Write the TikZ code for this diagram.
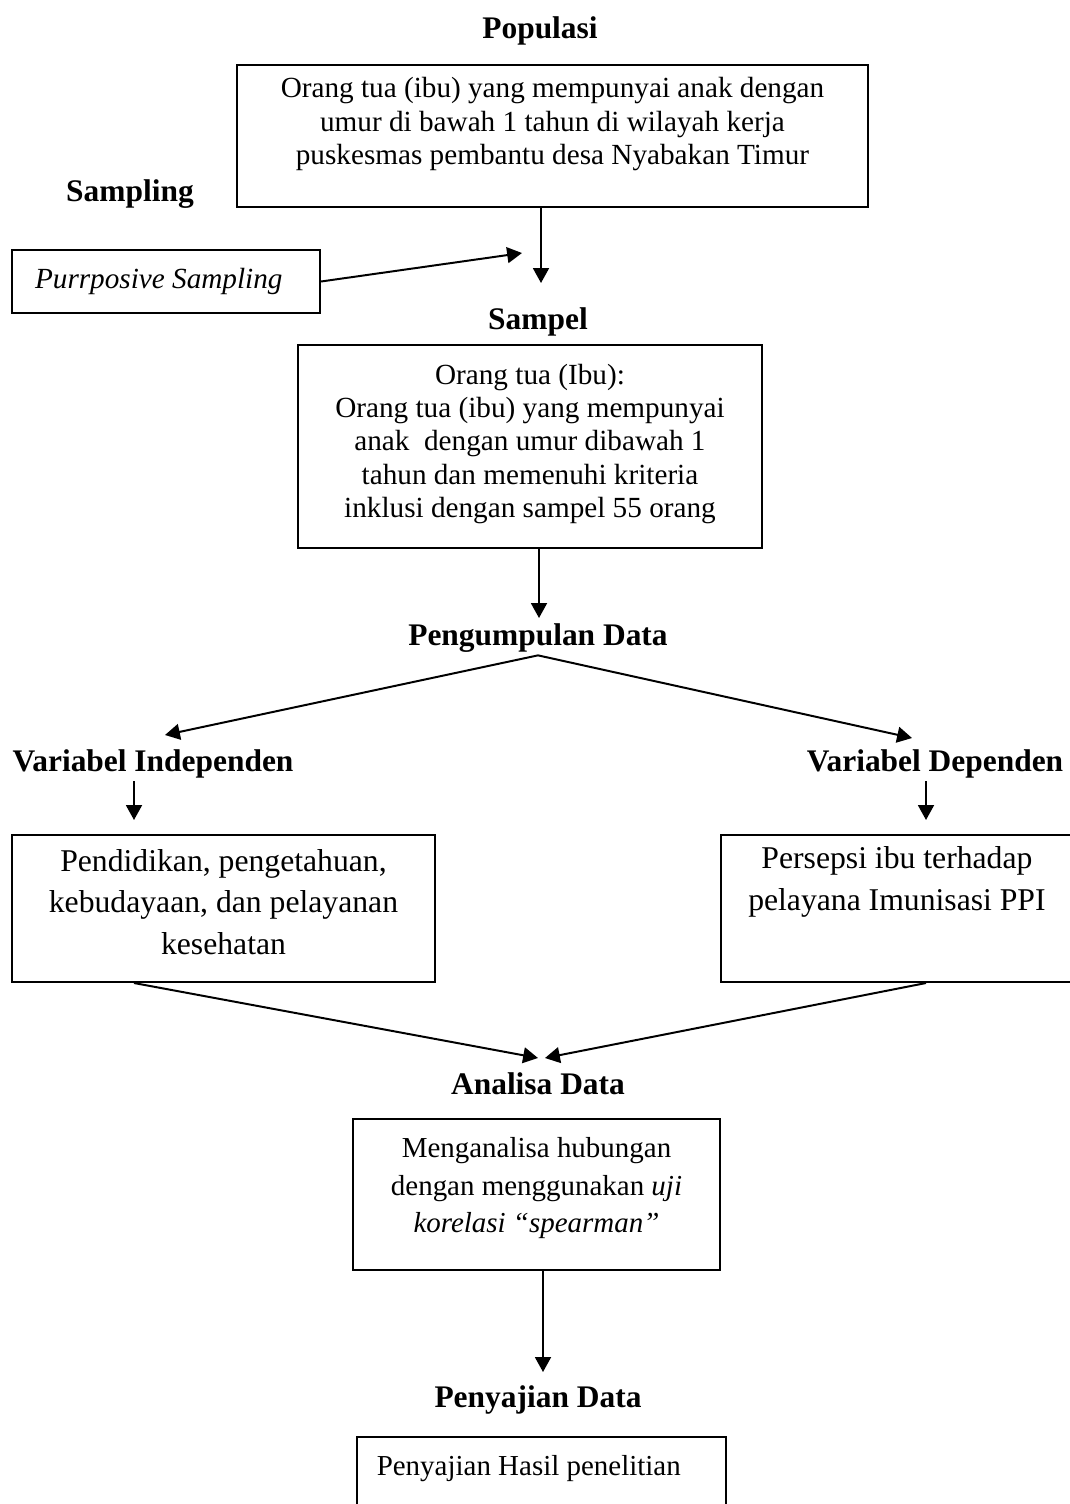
\documentclass[tikz,border=0pt]{standalone}
\usepackage{fontspec}
\setmainfont{Liberation Serif}
\usetikzlibrary{positioning,arrows.meta}

\begin{document}
\begin{tikzpicture}[
x=0.404pt,
y=-0.404pt,
kotak/.style={
  draw,
  line width=0.8pt,
  inner sep=0pt
  },
judul/.style={
  font=\bfseries\fontsize{12.7}{15}\selectfont,
  inner sep=1pt
  },
panah/.style={
  ->,
  line width=0.8pt
  },
>={Triangle[length=6pt,width=6.4pt]}
]
\useasboundingbox (0,0) rectangle (1070,1504);

% judul dan kotak
\node[judul] (pop) at (540,31) {Populasi};
\node[kotak] (popbox) at (552.5,136) {\parbox[c][57.5pt][t]{255.3pt}{\centering\fontsize{11.8}{13.6}\selectfont\vspace*{5pt}Orang tua (ibu) yang mempunyai anak dengan\\ umur di bawah 1 tahun di wilayah kerja\\ puskesmas pembantu desa Nyabakan Timur}};
\node[judul] (samp) at (130,194) {Sampling};
\node[kotak] (purp) at (166,281.5) {\parbox[c][25.5pt][c]{124.4pt}{\fontsize{11.8}{14}\selectfont\hspace*{9.3pt}\textit{Purrposive Sampling}}};
\node[judul] (sampel) at (538,322) {Sampel};
\node[kotak] (smpbox) at (530,446.5) {\parbox[c][82pt][t]{187.5pt}{\centering\fontsize{11.8}{13.5}\selectfont\vspace*{7.6pt}Orang tua (Ibu):\\ Orang tua (ibu) yang mempunyai\\ anak\ \ dengan umur dibawah 1\\ tahun dan memenuhi kriteria\\ inklusi dengan sampel 55 orang}};
\node[judul] (kumpul) at (538,638) {Pengumpulan Data};
\node[judul] (vi) at (153,764) {Variabel Independen};
\node[judul] (vd) at (935,764) {Variabel Dependen};
\node[kotak] (ind) at (223.5,908.5) {\parbox[c][59.4pt][t]{170.9pt}{\centering\fontsize{12.8}{16.8}\selectfont\vspace*{5.8pt}Pendidikan, pengetahuan,\\ kebudayaan, dan pelayanan\\ kesehatan}};
\node[kotak] (dep) at (905.5,908.5) {\parbox[c][59.4pt][t]{142.2pt}{\centering\fontsize{12.8}{17}\selectfont\vspace*{4.6pt}Persepsi ibu terhadap\\ pelayana Imunisasi PPI}\hspace*{6.9pt}};
\node[judul] (analisa) at (538,1084) {Analisa Data};
\node[kotak] (anbox) at (536.5,1194.5) {\parbox[c][61pt][t]{148.3pt}{\centering\fontsize{11.7}{15.1}\selectfont\vspace*{7.6pt}Menganalisa hubungan\\ dengan menggunakan \textit{uji}\\ \textit{korelasi ``spearman''}}};
\node[judul] (saji) at (538,1400) {Penyajian Data};
\node[kotak] (sajibox) at (541.5,1487) {\parbox[c][40.4pt][t]{149.1pt}{\fontsize{11.7}{14}\selectfont\vspace*{7.4pt}\hspace*{8pt}Penyajian Hasil penelitian}};

% ujung panah
\coordinate (t1) at (541,283);
\coordinate (t2) at (522,253);
\coordinate (t3) at (539,618);
\coordinate (t4) at (165,735);
\coordinate (t5) at (912,738);
\coordinate (t6) at (134,820);
\coordinate (t7) at (926,820);
\coordinate (t8) at (538,1058);
\coordinate (t9) at (545,1058);
\coordinate (t10) at (543,1372);

% panah
\draw[panah] (popbox.south -| t1) -- (t1);
\draw[panah] (purp.east) -- (t2);
\draw[panah] (smpbox.south -| t3) -- (t3);
\draw[panah] (kumpul.south) -- (t4);
\draw[panah] (kumpul.south) -- (t5);
\draw[panah] (vi.south -| t6) -- (t6);
\draw[panah] (vd.south -| t7) -- (t7);
\draw[panah] (ind.south -| t6) -- (t8);
\draw[panah] (dep.south -| t7) -- (t9);
\draw[panah] (anbox.south -| t10) -- (t10);

\end{tikzpicture}
\end{document}
